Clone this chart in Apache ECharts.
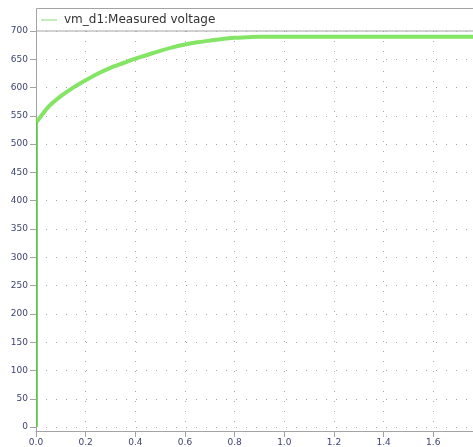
<!DOCTYPE html>
<html>
<head>
<meta charset="utf-8">
<script src="https://cdn.jsdelivr.net/npm/echarts@6/dist/echarts.min.js"></script>
<style>
  html, body { margin: 0; padding: 0; background: #ffffff; }
  #chart { width: 473px; height: 447px; }
</style>
</head>
<body>
<div id="chart"></div>
<script>
// Measured DC link voltage (V) against simulation time (s)
const timeS = [0.004, 0.05, 0.10, 0.15, 0.20, 0.25, 0.30, 0.35, 0.40, 0.45, 0.50,
               0.55, 0.60, 0.65, 0.70, 0.75, 0.80, 0.85, 0.90, 1.00, 1.10, 1.20,
               1.30, 1.40, 1.50, 1.60, 1.70, 1.76];
const voltage = [540, 566, 585, 600, 613, 625, 635, 643, 651, 658, 665,
                 671, 676, 680, 683, 686, 688, 689, 690, 690, 690, 690,
                 690, 690, 690, 690, 690, 690];

// Initial charge-up step at switch-on
const stepTime = [0.004, 0.004];
const stepVolt = [0, 540];

const seriesName = 'vm_d1:Measured voltage';
const xTickStep = 0.2;
const yTickStep = 50;

const pair = (xs, ys) => xs.map((x, i) => [x, ys[i]]);

const labelFont = {
  fontFamily: 'DejaVu Sans',
  fontSize: 9,
  color: '#3d4470'
};

const chart = echarts.init(document.getElementById('chart'), null, { renderer: 'canvas' });

chart.setOption({
  animation: false,
  backgroundColor: '#ffffff',
  grid: { left: 36, top: 31, right: 0, bottom: 16, containLabel: false },
  graphic: [{
    type: 'rect',
    z: 0,
    shape: { x: 36.5, y: 8.5, width: 445, height: 22.5 },
    style: { fill: '#ffffff', stroke: '#a3a3a3', lineWidth: 1 }
  }],
  legend: {
    left: 41,
    top: 14,
    itemWidth: 16,
    itemHeight: 1,
    itemGap: 10,
    padding: 0,
    icon: 'rect',
    textStyle: { fontFamily: 'DejaVu Sans', fontSize: 12, color: '#333333', padding: [0, 0, 0, 2] },
    data: [{ name: seriesName, itemStyle: { color: '#86dd74' } }]
  },
  xAxis: {
    type: 'value',
    min: 0,
    max: 1.76,
    splitNumber: 9,
    axisLine: { show: true, onZero: false, lineStyle: { color: '#a3a3a3', width: 1 } },
    axisTick: { show: true, length: 6, lineStyle: { color: '#a3a3a3' } },
    axisLabel: Object.assign({}, labelFont, {
      margin: 7,
      showMaxLabel: false,
      formatter: v => (Math.abs(v / xTickStep - Math.round(v / xTickStep)) < 1e-6 ? v.toFixed(1) : '')
    }),
    splitLine: { show: true, lineStyle: { color: '#a8a8a8', width: 1, type: [1, 9] } }
  },
  yAxis: {
    type: 'value',
    min: -7,
    max: 700,
    splitNumber: 14,
    axisLine: { show: true, onZero: false, lineStyle: { color: '#a3a3a3', width: 1 } },
    axisTick: { show: true, length: 6, lineStyle: { color: '#a3a3a3' } },
    axisLabel: Object.assign({}, labelFont, {
      margin: 8,
      showMinLabel: false,
      formatter: v => (v >= 0 && v % yTickStep === 0 ? String(v) : '')
    }),
    splitLine: { show: true, lineStyle: { color: '#a8a8a8', width: 1, type: [1, 9] } }
  },
  series: [
    {
      name: 'step',
      type: 'line',
      data: pair(stepTime, stepVolt),
      showSymbol: false,
      symbol: 'none',
      lineStyle: { color: '#55c43c', width: 1.5 },
      z: 3
    },
    {
      name: seriesName,
      type: 'line',
      data: pair(timeS, voltage),
      smooth: 0.3,
      showSymbol: false,
      symbol: 'none',
      itemStyle: { color: '#86dd74' },
      lineStyle: { color: '#6ee04a', width: 4, opacity: 0.85 },
      z: 3
    }
  ]
});
</script>
</body>
</html>
